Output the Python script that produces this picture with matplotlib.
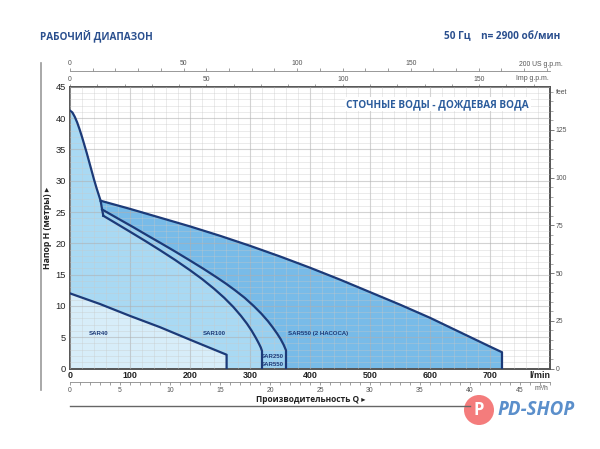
import matplotlib

matplotlib.use("Agg")
import matplotlib.pyplot as plt
from matplotlib import font_manager
from matplotlib.patches import Circle
from matplotlib.ticker import MultipleLocator

# pump curves, Q in l/min, H in metres
ENV_Q = [0, 4, 8, 12, 16, 20, 24, 28, 32, 36, 40, 44, 48, 51, 53.5, 55.5]
ENV_H = [41.2, 40.9, 40.2, 39.3, 38.2, 37.0, 35.7, 34.4, 33.0, 31.6, 30.2, 28.9, 27.7, 26.8, 25.4, 24.4]
ENV_550 = 14   # points of the envelope shared with the twin-pump area
ENV_250 = 15

SAR40_Q = [0, 50, 100, 150, 200, 261, 261]
SAR40_H = [12.0, 10.3, 8.4, 6.6, 4.6, 2.2, 0]

SAR100_Q = [55.5, 80, 100, 125, 150, 175, 200, 220, 240, 257, 272, 285, 295, 303, 310, 315, 318, 320, 320]
SAR100_H = [24.4, 23.0, 21.85, 20.4, 18.9, 17.35, 15.7, 14.3, 12.75, 11.3, 9.85, 8.4, 7.15, 6.0, 4.85,
            3.95, 3.35, 2.8, 0]

SAR250_Q = [53.5, 80, 105, 130, 150, 175, 200, 222, 243, 260, 275, 291, 306, 319, 330, 338, 345, 351, 356,
            360, 360]
SAR250_H = [25.4, 23.95, 22.6, 21.2, 20.1, 18.7, 17.25, 15.95, 14.65, 13.55, 12.5, 11.3, 10.0, 8.75, 7.55,
            6.55, 5.6, 4.7, 3.8, 2.9, 0]

SAR550X2_Q = [51, 100, 150, 200, 250, 300, 350, 400, 450, 500, 550, 600, 650, 700, 720, 720]
SAR550X2_H = [26.8, 25.5, 24.1, 22.7, 21.2, 19.6, 17.9, 16.1, 14.2, 12.2, 10.2, 8.1, 5.8, 3.5, 2.6, 0]

LABELS = [
    ("SAR40", 47, 5.6),
    ("SAR100", 241, 5.6),
    ("SAR550 (2 НАСОСА)", 414, 5.6),
    ("SAR250", 338, 1.9),
    ("SAR550", 338, 0.6),
]

LINE = "#1c3a78"
TITLE = "#2a4f8e"
FILL_40 = "#d7edf9"
FILL_100 = "#a9d9f3"
FILL_250 = "#99d0f0"
FILL_550 = "#6cb6e7"
BOLD_FONT = ["Open Sans", "DejaVu Sans"]

installed = {f.name for f in font_manager.fontManager.ttflist}
if "Liberation Sans Narrow" in installed:
    NARROW, SHRINK = ["Liberation Sans Narrow", "DejaVu Sans"], 1.0
else:
    NARROW, SHRINK = ["Liberation Sans", "DejaVu Sans"], 0.82

L_PER_US = 3.785
L_PER_IMP = 4.546
L_PER_M3H = 1000 / 60
M_TO_FT = 3.2808

fig = plt.figure(figsize=(6, 4.49), dpi=100)
ax = fig.add_axes([70 / 600, 1 - 368.5 / 449, 480 / 600, 281.7 / 449])
ax.set_xlim(0, 800)
ax.set_ylim(0, 45)

# fills, drawn back to front
ax.fill(ENV_Q[:ENV_550] + SAR550X2_Q + [0], ENV_H[:ENV_550] + SAR550X2_H + [0],
        color=FILL_550, lw=0, alpha=0.92, zorder=1)
ax.fill(ENV_Q[:ENV_250] + SAR250_Q + [0], ENV_H[:ENV_250] + SAR250_H + [0],
        color=FILL_250, lw=0, zorder=1.1)
ax.fill(ENV_Q + SAR100_Q + [0], ENV_H + SAR100_H + [0], color=FILL_100, lw=0, zorder=1.2)
ax.fill(SAR40_Q + [0], SAR40_H + [0], color=FILL_40, lw=0, zorder=1.3)

ax.xaxis.set_major_locator(MultipleLocator(100))
ax.xaxis.set_minor_locator(MultipleLocator(20))
ax.yaxis.set_major_locator(MultipleLocator(5))
ax.yaxis.set_minor_locator(MultipleLocator(1))
ax.grid(which="major", color="#b0b0b0", lw=0.8, alpha=0.55, zorder=1.5)
ax.grid(which="minor", color="#c8c8c8", lw=0.5, alpha=0.5, zorder=1.5)
ax.set_axisbelow(False)

kw = dict(color=LINE, lw=1.6, zorder=3, solid_joinstyle="round")
ax.plot(ENV_Q, ENV_H, **kw)
ax.plot(SAR40_Q, SAR40_H, **kw)
ax.plot(SAR100_Q, SAR100_H, **kw)
ax.plot(SAR250_Q, SAR250_H, **kw)
ax.plot(SAR550X2_Q, SAR550X2_H, **kw)

for text, q, h in LABELS:
    ax.text(q, h, text, fontsize=5.4 * SHRINK, fontweight="bold", color=LINE, family=NARROW,
            ha="center", va="center", zorder=4)

for sp in ax.spines.values():
    sp.set_color("#555555")
    sp.set_linewidth(1.4)

ax.tick_params(which="both", length=0)
ax.set_xticks(range(0, 800, 100))
ax.set_xticklabels([str(v) for v in range(0, 800, 100)], fontsize=7.8 * SHRINK,
                   fontweight="bold", family=NARROW, color="#222222")
ax.tick_params(axis="x", pad=2)
ax.tick_params(axis="y", pad=3, labelsize=8.2 * SHRINK, labelcolor="#222222")
for t in ax.get_yticklabels():
    t.set_family(NARROW)
ax.text(800, -0.45, "l/min", fontsize=7.8 * SHRINK, fontweight="bold", family=NARROW,
        color="#222222", ha="right", va="top")

SMALL = 6.0 * SHRINK

# feet on the right
ft = ax.secondary_yaxis("right", functions=(lambda m: m * M_TO_FT, lambda f: f / M_TO_FT))
ft.yaxis.set_major_locator(MultipleLocator(25))
ft.yaxis.set_minor_locator(MultipleLocator(5))
ft.tick_params(which="major", length=3, width=0.6, color="#666666", labelsize=SMALL,
               labelcolor="#555555", pad=1)
ft.tick_params(which="minor", length=2, width=0.5, color="#888888")
ft.spines["right"].set_visible(False)
for t in ft.get_yticklabels():
    t.set_family(NARROW)
ax.text(1.012, 0.993, "feet", transform=ax.transAxes, fontsize=SMALL, color="#555555",
        family=NARROW, ha="left", va="top")

small = dict(labelsize=SMALL, labelcolor="#555555", color="#777777")

# Imp g.p.m. on the top spine
imp = ax.secondary_xaxis("top", functions=(lambda q: q / L_PER_IMP, lambda g: g * L_PER_IMP))
imp.xaxis.set_minor_locator(MultipleLocator(10))
imp.set_xticks([0, 50, 100, 150])
imp.tick_params(which="major", length=2.5, width=0.5, pad=0.5, **small)
imp.tick_params(which="minor", length=2.5, width=0.5, color="#777777")
imp.spines["top"].set_visible(False)
for t in imp.get_xticklabels():
    t.set_family(NARROW)
ax.text(798, 45 + 1.35, "Imp g.p.m.", fontsize=SMALL, color="#555555", family=NARROW,
        ha="right", va="center")

# US g.p.m. above
us = ax.secondary_xaxis(1.055, functions=(lambda q: q / L_PER_US, lambda g: g * L_PER_US))
us.xaxis.set_minor_locator(MultipleLocator(10))
us.set_xticks([0, 50, 100, 150])
us.tick_params(which="major", length=2.5, width=0.5, pad=0.5, **small)
us.tick_params(which="minor", length=2.5, width=0.5, color="#777777")
us.spines["top"].set_color("#888888")
us.spines["top"].set_linewidth(0.6)
for t in us.get_xticklabels():
    t.set_family(NARROW)
ax.text(200 * L_PER_US - 8, 45 + 3.05, "200 US g.p.m.", fontsize=SMALL, color="#555555",
        family=NARROW, ha="left", va="bottom")

# m3/h below
m3 = ax.secondary_xaxis(-0.047, functions=(lambda q: q / L_PER_M3H, lambda v: v * L_PER_M3H))
m3.xaxis.set_minor_locator(MultipleLocator(1))
m3.set_xticks(range(0, 50, 5))
m3.tick_params(which="major", length=2.5, width=0.5, pad=1, **small)
m3.tick_params(which="minor", length=2.5, width=0.5, color="#777777")
m3.spines["bottom"].set_color("#888888")
m3.spines["bottom"].set_linewidth(0.6)
for t in m3.get_xticklabels():
    t.set_family(NARROW)
ax.text(798, -2.65, "m³/h", fontsize=SMALL, color="#555555", family=NARROW,
        ha="right", va="top")

# headings
fig.text(40 / 600, 1 - 37 / 449, "РАБОЧИЙ ДИАПАЗОН", fontsize=7.2, fontweight="bold",
         color=TITLE, family=BOLD_FONT, ha="left", va="center")
fig.text(560 / 600, 1 - 37 / 449, "50 Гц    n= 2900 об/мин", fontsize=7.2, fontweight="bold",
         color=TITLE, family=BOLD_FONT, ha="right", va="center")
ax.text(613, 42.2, "СТОЧНЫЕ ВОДЫ - ДОЖДЕВАЯ ВОДА", fontsize=7.2,
        fontweight="bold", color="#2b5c9c", family=BOLD_FONT, ha="center", va="center", zorder=4,
        bbox=dict(facecolor="white", edgecolor="none", pad=1))
fig.text(47 / 600, 1 - 228 / 449, "Напор H (метры) ▸", rotation=90, fontsize=6.3,
         fontweight="bold", color="#222222", family=BOLD_FONT, ha="center", va="center")
fig.text(311 / 600, 1 - 400 / 449, "Производительность Q ▸", fontsize=6.0,
         fontweight="bold", color="#222222", family=BOLD_FONT, ha="center", va="center")

# frame lines
fig.add_artist(plt.Line2D([41 / 600, 41 / 600], [1 - 63 / 449, 1 - 390 / 449],
                          color="#999999", lw=1.2))
fig.add_artist(plt.Line2D([70 / 600, 470 / 600], [1 - 406 / 449, 1 - 406 / 449],
                          color="#666666", lw=1.0))

# logo
fig.add_artist(Circle((4.79, (449 - 410) / 100), 0.15, transform=fig.dpi_scale_trans,
                      facecolor="#f47c7c", edgecolor="none"))
fig.text(479 / 600, 1 - 410 / 449, "P", fontsize=12, fontweight="bold", color="white",
         ha="center", va="center", family=BOLD_FONT)
fig.text(498 / 600, 1 - 410 / 449, "PD-SHOP", fontsize=13.5, fontweight="bold", style="italic",
         color="#5b8fcb", ha="left", va="center", family=BOLD_FONT)

fig.savefig("out.png", dpi=100)
